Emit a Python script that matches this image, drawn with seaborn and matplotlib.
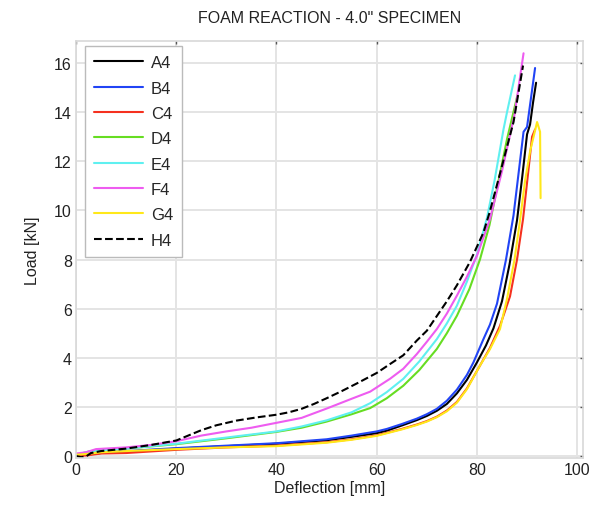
import matplotlib
matplotlib.use("Agg")
import matplotlib.pyplot as plt
import seaborn as sns
import pandas as pd

# ---- data ----
series_names = ["A4", "B4", "C4", "D4", "E4", "F4", "G4", "H4"]

a4_x = [0, 2, 5, 10, 20, 30, 40, 50, 55, 60, 62, 65, 68, 70, 72, 74, 76, 78, 80, 81.8, 83.3, 85, 86.5, 88, 89, 90, 90.6, 91.2, 91.8]
a4_y = [0, 0.05, 0.12, 0.18, 0.3, 0.4, 0.5, 0.64, 0.78, 0.93, 1.03, 1.24, 1.46, 1.63, 1.84, 2.12, 2.55, 3.1, 3.81, 4.5, 5.2, 6.3, 7.8, 9.6, 11.3, 13.1, 13.5, 14.4, 15.2]

b4_x = [0, 2, 5, 10, 20, 30, 40, 50, 55, 60, 62, 65, 68, 70, 72, 74, 76, 78, 79.3, 81.3, 82.6, 84, 85.8, 87.3, 88.3, 89.3, 90, 90.8, 91.6]
b4_y = [0, 0.05, 0.15, 0.2, 0.32, 0.42, 0.52, 0.68, 0.83, 1.0, 1.1, 1.3, 1.52, 1.7, 1.92, 2.25, 2.7, 3.3, 3.81, 4.76, 5.35, 6.2, 8.0, 9.8, 11.5, 13.2, 13.4, 14.6, 15.8]

c4_x = [0, 2, 5, 10, 20, 30, 40, 50, 55, 60, 65, 68, 70, 72, 74, 76, 78, 80.6, 82.6, 84.6, 86.6, 88, 89.2, 90.2, 91, 91.6]
c4_y = [0, 0.02, 0.1, 0.12, 0.25, 0.35, 0.42, 0.56, 0.68, 0.84, 1.1, 1.28, 1.42, 1.6, 1.85, 2.2, 2.75, 3.68, 4.4, 5.3, 6.5, 8.0, 9.65, 11.5, 13.0, 13.3]

d4_x = [0, 3, 10, 20, 30, 40, 45, 50, 55, 58.7, 62, 65.3, 68.5, 72, 74, 76, 78.5, 80.6, 82.5, 84, 86, 88.1]
d4_y = [0.05, 0.2, 0.3, 0.48, 0.72, 0.98, 1.15, 1.4, 1.7, 1.95, 2.35, 2.86, 3.5, 4.36, 5.0, 5.71, 6.8, 8.0, 9.4, 10.9, 12.9, 14.7]

e4_x = [0, 3, 10, 20, 30, 40, 45, 50, 55, 58.7, 62, 65.3, 68.5, 72, 74, 76, 78, 80, 82, 83.5, 85.3, 86.0, 87.6]
e4_y = [0.05, 0.2, 0.3, 0.5, 0.75, 1.0, 1.2, 1.45, 1.78, 2.15, 2.6, 3.14, 3.85, 4.76, 5.4, 6.12, 7.1, 8.2, 9.7, 11.2, 13.3, 14.0, 15.5]

f4_x = [0, 2, 4, 10, 15, 20, 25, 30, 35, 40, 45, 50, 55, 58.7, 62.7, 65.3, 68, 70, 72, 74, 76, 78, 80, 82.6, 85, 87.5, 89.3]
f4_y = [0.1, 0.15, 0.28, 0.35, 0.45, 0.6, 0.83, 1.0, 1.15, 1.35, 1.55, 1.93, 2.33, 2.62, 3.15, 3.55, 4.15, 4.65, 5.17, 5.8, 6.53, 7.3, 8.15, 9.65, 11.6, 13.9, 16.4]

g4_x = [0, 2, 5, 10, 20, 30, 40, 50, 55, 60, 65, 68, 70, 72, 74, 76, 78, 80.6, 82.6, 84.6, 86, 87.5, 88.6, 89.6, 90.6, 91.3, 92.0, 92.6, 92.7]
g4_y = [0.05, 0.08, 0.15, 0.2, 0.28, 0.35, 0.4, 0.54, 0.66, 0.82, 1.08, 1.26, 1.4, 1.58, 1.82, 2.17, 2.72, 3.68, 4.35, 5.17, 6.4, 8.0, 9.6, 11.2, 12.4, 13.0, 13.6, 13.2, 10.5]

h4_x = [0, 1, 2, 3, 5, 10, 15, 20, 25, 28, 32, 36, 40, 42.5, 45, 47.5, 50, 53, 56, 60, 62.7, 65.3, 68, 70, 72, 74, 76, 78.6, 81.3, 82.5, 84.6, 87.3, 89.2]
h4_y = [0, -0.05, -0.02, 0.12, 0.2, 0.3, 0.45, 0.63, 1.05, 1.25, 1.44, 1.57, 1.68, 1.78, 1.92, 2.12, 2.35, 2.64, 2.95, 3.38, 3.75, 4.1, 4.7, 5.1, 5.7, 6.3, 6.95, 7.9, 9.1, 9.9, 11.5, 13.6, 15.9]

x_ticks = [0, 20, 40, 60, 80, 100]
y_ticks = [0, 2, 4, 6, 8, 10, 12, 14, 16]
title_text = 'FOAM REACTION - 4.0" SPECIMEN'
x_label = "Deflection [mm]"
y_label = "Load [kN]"

series_x = [a4_x, b4_x, c4_x, d4_x, e4_x, f4_x, g4_x, h4_x]
series_y = [a4_y, b4_y, c4_y, d4_y, e4_y, f4_y, g4_y, h4_y]

colors = ["#000000", "#2144f5", "#f5311f", "#66dd22", "#5ff0f0", "#ee5cf0", "#ffe81a", "#000000"]
styles = ["-", "-", "-", "-", "-", "-", "-", "--"]

sns.set_theme(style="whitegrid")
plt.rcParams["font.family"] = ["Liberation Sans", "DejaVu Sans"]

fig = plt.figure(figsize=(5.96, 5.06), dpi=100)
ax = fig.add_axes([0.1275, 0.093, 0.851, 0.824])

for name, xs, ys, c, ls in zip(series_names, series_x, series_y, colors, styles):
    df = pd.DataFrame({"x": xs, "y": ys})
    sns.lineplot(data=df, x="x", y="y", ax=ax, color=c, linestyle=ls,
                 linewidth=1.5, label=name, sort=False, estimator=None)

ax.set_xlim(0, 101.2)
ax.set_ylim(-0.08, 16.9)
ax.set_xticks(x_ticks)
ax.set_yticks(y_ticks)
ax.grid(True, color="#e4e4e4", linewidth=1.4)
for s in ax.spines.values():
    s.set_color("#d8d8d8")
    s.set_linewidth(1.2)
ax.tick_params(direction="in", length=2.5, width=1, color="#555555",
               top=True, right=True, labelsize=11.5, pad=3, labelcolor="#222222")
ax.set_xlabel(x_label, fontsize=11.5, labelpad=2, color="#222222")
ax.set_ylabel(y_label, fontsize=11.5, labelpad=10, color="#222222")
ax.set_title(title_text, fontsize=11.5, pad=14, color="#222222")

leg = ax.legend(loc="upper left", bbox_to_anchor=(0.018, 0.988), borderaxespad=0,
                fontsize=12, frameon=True, fancybox=False, handlelength=2.9,
                labelspacing=0.62, borderpad=0.55, handletextpad=0.5)
leg.get_frame().set_edgecolor("#bbbbbb")
leg.get_frame().set_linewidth(1.0)
leg.get_frame().set_alpha(1)

fig.savefig("out.png", dpi=100)
